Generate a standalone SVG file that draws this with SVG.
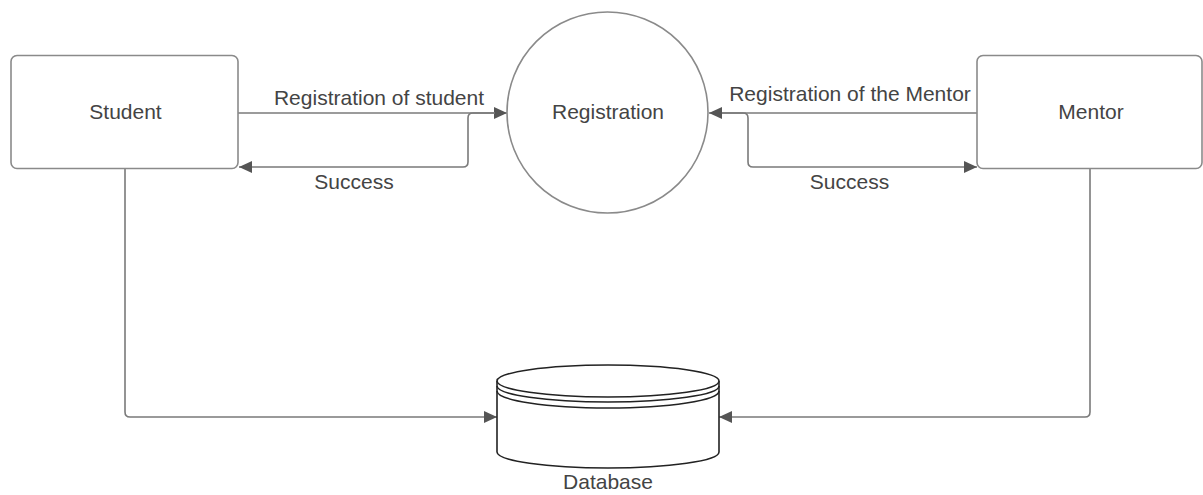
<svg xmlns="http://www.w3.org/2000/svg" width="1203" height="495" viewBox="0 0 1203 495">
<style>
  .box { fill: #ffffff; stroke: #8a8a8a; stroke-width: 1.6; }
  .conn { fill: none; stroke: #7a7a7a; stroke-width: 1.6; }
  .db { fill: #ffffff; stroke: #222222; stroke-width: 1.6; }
  .dbl { fill: none; stroke: #222222; stroke-width: 1.6; }
  .lbl { font-family: "Liberation Sans", Arial, sans-serif; font-size: 21px; fill: #444444; text-anchor: middle; }
</style>
<defs>
  <marker id="arr" markerUnits="userSpaceOnUse" markerWidth="14" markerHeight="12" refX="13" refY="6" orient="auto">
    <path d="M0,0 L13,6 L0,12 z" fill="#555555"/>
  </marker>
</defs>
<rect width="1203" height="495" fill="#ffffff"/>
<g id="connectors">
  <path class="conn" d="M238,113 H507" marker-end="url(#arr)"/>
  <path class="conn" d="M495,113 H473 Q468,113 468,118 V162 Q468,167 463,167 H239" marker-end="url(#arr)"/>
  <path class="conn" d="M977,113 H709" marker-end="url(#arr)"/>
  <path class="conn" d="M722,113 H743 Q748,113 748,118 V162 Q748,167 753,167 H977" marker-end="url(#arr)"/>
  <path class="conn" d="M125,168 V412 Q125,417 130,417 H497" marker-end="url(#arr)"/>
  <path class="conn" d="M1090,168 V412 Q1090,417 1085,417 H719" marker-end="url(#arr)"/>
  <text class="lbl" x="379" y="105">Registration of student</text>
  <text class="lbl" x="354" y="189">Success</text>
  <text class="lbl" x="850" y="101">Registration of the Mentor</text>
  <text class="lbl" x="849.5" y="189">Success</text>
</g>
<g id="student">
  <rect class="box" x="11" y="55.5" width="227" height="113" rx="6"/>
  <text class="lbl" x="125.5" y="119">Student</text>
</g>
<g id="registration">
  <circle class="box" cx="607.5" cy="112.5" r="100.5"/>
  <text class="lbl" x="608" y="119">Registration</text>
</g>
<g id="mentor">
  <rect class="box" x="977" y="55.5" width="225" height="113" rx="6"/>
  <text class="lbl" x="1091" y="119">Mentor</text>
</g>
<g id="database">
  <path class="db" d="M497,381 V452 A111,16 0 0 0 719,452 V381"/>
  <ellipse class="db" cx="608" cy="381" rx="111" ry="16"/>
  <path class="dbl" d="M497,386 A111,16 0 0 0 719,386"/>
  <path class="dbl" d="M497,391 A111,17 0 0 0 719,391"/>
  <text class="lbl" x="608" y="489">Database</text>
</g>
</svg>
